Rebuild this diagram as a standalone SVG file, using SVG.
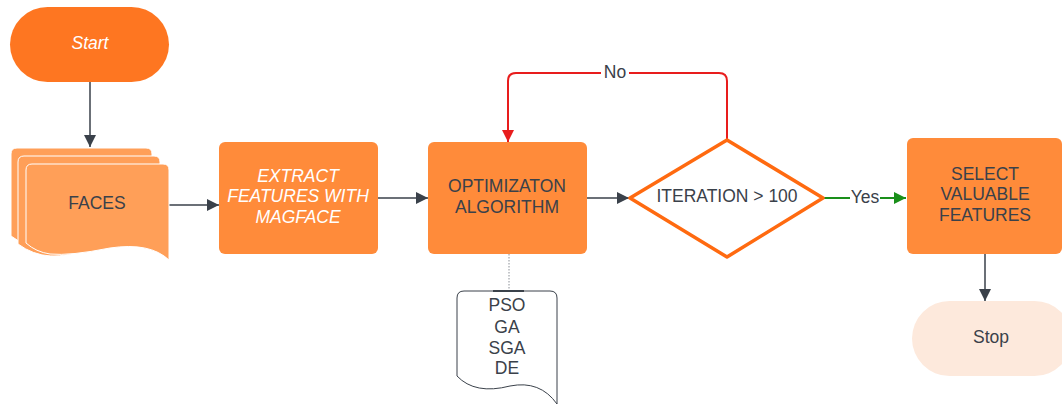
<svg xmlns="http://www.w3.org/2000/svg" width="1062" height="407" viewBox="0 0 1062 407">
  <defs>
    <marker id="arrDark" viewBox="0 0 10 10" refX="10" refY="5" markerWidth="9" markerHeight="8" orient="auto" markerUnits="strokeWidth">
      <path d="M0,0 L10,5 L0,10 z" fill="#3a414a"/>
    </marker>
    <marker id="arrRed" viewBox="0 0 10 10" refX="10" refY="5" markerWidth="7" markerHeight="6" orient="auto" markerUnits="strokeWidth">
      <path d="M0,0 L10,5 L0,10 z" fill="#e81d1d"/>
    </marker>
    <marker id="arrGreen" viewBox="0 0 10 10" refX="10" refY="5" markerWidth="7" markerHeight="6" orient="auto" markerUnits="strokeWidth">
      <path d="M0,0 L10,5 L0,10 z" fill="#1a8f1a"/>
    </marker>
  </defs>
  <style>
    text { font-family: "Liberation Sans", Arial, sans-serif; font-size: 17.5px; text-anchor: middle; dominant-baseline: central; }
    .dark { fill: #3a414a; }
    .light { fill: #ffffff; font-style: italic; }
    .box { fill: #ff8b3a; }
    .conn { fill: none; stroke: #3a414a; stroke-width: 1.5; marker-end: url(#arrDark); }
  </style>
  <rect width="1062" height="407" fill="#ffffff"/>

  <!-- connectors -->
  <g id="connectors">
    <line class="conn" x1="90" y1="82" x2="90" y2="147"/>
    <line class="conn" x1="169" y1="205" x2="219" y2="205"/>
    <line class="conn" x1="378" y1="198" x2="428" y2="198"/>
    <line class="conn" x1="587" y1="198" x2="629" y2="198"/>
    <line class="conn" x1="985" y1="254" x2="985" y2="301"/>
    <path d="M727,140 V81 Q727,73 719,73 H516 Q508,73 508,81 V142" fill="none" stroke="#e81d1d" stroke-width="2" marker-end="url(#arrRed)"/>
    <rect x="601" y="63" width="28" height="18" fill="#ffffff"/>
    <text x="615" y="72" class="dark">No</text>
    <line x1="823" y1="198" x2="906" y2="198" stroke="#1a8f1a" stroke-width="2" marker-end="url(#arrGreen)"/>
    <rect x="850" y="189" width="30" height="17" fill="#ffffff"/>
    <text x="865" y="197" class="dark">Yes</text>
    <line x1="509" y1="254" x2="509" y2="291" stroke="#8a8f96" stroke-width="1" stroke-dasharray="1.5,1.5"/>
  </g>

  <!-- Start terminal -->
  <g id="start">
    <rect x="10" y="7" width="159" height="75" rx="37.5" fill="#fe7621"/>
    <text x="90" y="43" class="light">Start</text>
  </g>

  <!-- FACES multi-document -->
  <g id="faces" fill="#ff9f58" stroke="#ffffff" stroke-width="1">
    <path d="M11,154 Q11,148 17,148 H146 Q152,148 152,154 V236 Q120,220 80,240 Q40,258 11,236 Z"/>
    <path d="M18,162 Q18,156 24,156 H154 Q160,156 160,162 V244 Q128,228 88,248 Q48,266 18,244 Z"/>
    <path d="M26,170 Q26,164 32,164 H163 Q169,164 169,170 V260 Q150,242 110,248 Q70,256 50,254 Q36,252 26,243 Z"/>
    <text x="97" y="203" class="dark" stroke="none">FACES</text>
  </g>

  <!-- feature extraction -->
  <g id="extract">
    <rect class="box" x="219" y="142" width="159" height="112" rx="6"/>
    <text x="298" y="176" class="light">EXTRACT</text>
    <text x="298" y="196" class="light">FEATURES WITH</text>
    <text x="298" y="217" class="light">MAGFACE</text>
  </g>

  <!-- optimization step -->
  <g id="optimization">
    <rect class="box" x="428" y="142" width="159" height="112" rx="6"/>
    <text x="507" y="186" class="dark">OPTIMIZATON</text>
    <text x="507" y="207" class="dark">ALGORITHM</text>
  </g>

  <!-- algorithm list document -->
  <g id="algorithms">
    <path d="M457,298 Q457,291 464,291 H550 Q557,291 557,298 V404 Q540,380 510,386 Q475,395 457,376 Z" fill="#ffffff" stroke="#3a414a" stroke-width="1"/>
    <line x1="493" y1="291" x2="524" y2="291" stroke="#3a414a" stroke-width="2"/>
    <text x="507" y="305" class="dark">PSO</text>
    <text x="507" y="327" class="dark">GA</text>
    <text x="507" y="348" class="dark">SGA</text>
    <text x="507" y="368" class="dark">DE</text>
  </g>

  <!-- iteration decision -->
  <g id="decision">
    <path d="M727,140 L823,198 L727,257 L630,198 Z" fill="#ffffff" stroke="#ff6a10" stroke-width="3.5" stroke-linejoin="round"/>
    <text x="727" y="196" class="dark">ITERATION &gt; 100</text>
  </g>

  <!-- feature selection -->
  <g id="select">
    <rect class="box" x="907" y="138" width="155" height="116" rx="6"/>
    <text x="985" y="174" class="dark">SELECT</text>
    <text x="985" y="194" class="dark">VALUABLE</text>
    <text x="985" y="215" class="dark">FEATURES</text>
  </g>

  <!-- Stop terminal -->
  <g id="stop">
    <rect x="912" y="301" width="160" height="75" rx="37.5" fill="#fde9dc"/>
    <text x="991" y="337" class="dark">Stop</text>
  </g>
</svg>
